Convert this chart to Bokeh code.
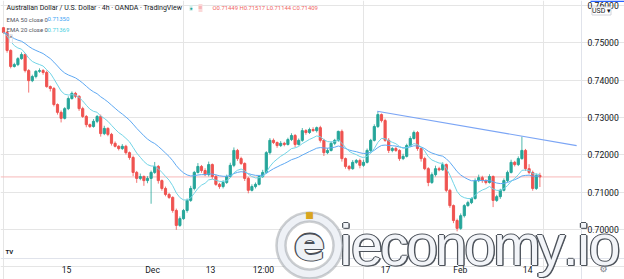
from bokeh.plotting import figure
from bokeh.models import Range1d, Span, Label, ColumnDataSource, BoxAnnotation
from bokeh.embed import file_html
from bokeh.resources import INLINE

# ---------------- data ----------------
first_open = 0.7541
closes = [
    0.7528, 0.7480, 0.7437, 0.7442, 0.7458, 0.7469, 0.7426, 0.7399, 0.7410, 0.7424,
    0.7426, 0.7421, 0.7383, 0.7378, 0.7335, 0.7314, 0.7298, 0.7324, 0.7351, 0.7365,
    0.7357, 0.7324, 0.7303, 0.7281, 0.7276, 0.7290, 0.7303, 0.7257, 0.7271, 0.7255,
    0.7231, 0.7223, 0.7217, 0.7223, 0.7206, 0.7193, 0.7153, 0.7137, 0.7142, 0.7131,
    0.7137, 0.7153, 0.7169, 0.7131, 0.7110, 0.7094, 0.7086, 0.7051, 0.7011, 0.7029,
    0.7051, 0.7078, 0.7110, 0.7153, 0.7169, 0.7158, 0.7147, 0.7174, 0.7142, 0.7121,
    0.7115, 0.7126, 0.7142, 0.7172, 0.7212, 0.7190, 0.7177, 0.7137, 0.7105, 0.7115,
    0.7121, 0.7142, 0.7153, 0.7206, 0.7239, 0.7233, 0.7225, 0.7231, 0.7228, 0.7241,
    0.7252, 0.7228, 0.7239, 0.7265, 0.7260, 0.7268, 0.7265, 0.7273, 0.7239, 0.7206,
    0.7212, 0.7231, 0.7239, 0.7263, 0.7190, 0.7169, 0.7163, 0.7180, 0.7185, 0.7172,
    0.7180, 0.7212, 0.7239, 0.7276, 0.7308, 0.7292, 0.7239, 0.7212, 0.7217, 0.7212,
    0.7190, 0.7196, 0.7225, 0.7244, 0.7260, 0.7217, 0.7190, 0.7163, 0.7126, 0.7147,
    0.7163, 0.7160, 0.7174, 0.7105, 0.7064, 0.7024, 0.7003, 0.7037, 0.7064, 0.7072,
    0.7083, 0.7131, 0.7139, 0.7131, 0.7126, 0.7142, 0.7078, 0.7088, 0.7105, 0.7131,
    0.7153, 0.7180, 0.7174, 0.7190, 0.7212, 0.7163, 0.7153, 0.7110, 0.7145, 0.71409,
]
# wick lengths above / below the candle body, in pips (0.0001)
up_wick_pips = [
    2, 4, 3, 5, 4, 6, 3, 4, 5, 3,
    6, 4, 5, 3, 4, 3, 5, 4, 6, 5,
    4, 3, 5, 4, 3, 6, 4, 5, 7, 3,
    4, 5, 3, 6, 4, 3, 5, 4, 8, 3,
    6, 5, 12, 4, 3, 5, 4, 3, 5, 6,
    4, 5, 7, 4, 9, 4, 6, 8, 3, 5,
    4, 6, 5, 7, 8, 4, 5, 3, 4, 6,
    5, 4, 7, 4, 6, 5, 3, 6, 4, 5,
    6, 4, 5, 7, 4, 5, 6, 3, 5, 4,
    6, 5, 4, 2, 5, 3, 4, 6, 4, 5,
    7, 5, 4, 6, 8, 3, 5, 6, 4, 5,
    3, 7, 5, 6, 5, 4, 3, 5, 4, 6,
    8, 5, 6, 3, 4, 3, 5, 6, 4, 5,
    3, 6, 8, 5, 4, 6, 3, 5, 4, 6,
    5, 7, 4, 6, 37, 4, 12, 5, 5, 7,
]
down_wick_pips = [
    3, 6, 5, 3, 4, 3, 5, 32, 4, 5,
    4, 6, 3, 8, 5, 6, 11, 3, 4, 3,
    5, 6, 4, 7, 4, 3, 5, 8, 4, 5,
    6, 3, 5, 4, 5, 6, 10, 12, 5, 14,
    7, 68, 4, 8, 6, 5, 4, 6, 12, 4,
    3, 6, 4, 5, 3, 6, 4, 5, 7, 4,
    6, 5, 4, 3, 5, 6, 4, 7, 8, 3,
    5, 3, 4, 3, 5, 4, 6, 4, 5, 3,
    4, 7, 3, 4, 6, 4, 3, 5, 6, 9,
    4, 3, 5, 4, 8, 6, 5, 3, 4, 8,
    4, 3, 5, 3, 4, 5, 4, 7, 5, 4,
    6, 4, 3, 4, 3, 6, 8, 4, 10, 4,
    5, 4, 3, 5, 6, 7, 8, 4, 5, 3,
    4, 3, 4, 6, 5, 3, 18, 4, 6, 3,
    4, 3, 5, 4, 3, 6, 5, 6, 4, 27,
]
date_tick_index = [17.5, 41.4, 57.5, 72.2, 87.5, 106.1, 126.9, 145.6]
date_tick_labels = ["15", "Dec", "13", "12:00", "2022", "17", "Feb", "14"]
price_ticks = [0.70, 0.71, 0.72, 0.73, 0.74, 0.75, 0.76]
trend_x = [103.8, 159.2]
trend_y = [0.7317, 0.7225]
last_price = 0.71409
ema_periods = [50, 20]
ema_bar_scale = 2.0  # 4h bars represented by one drawn candle (for EMA smoothing)

assert len(closes) == len(up_wick_pips) == len(down_wick_pips)

# ---------------- derived ----------------
n = len(closes)
idx = list(range(n))
opens = [first_open] + closes[:-1]
highs = [max(o, c) + u * 1e-4 for o, c, u in zip(opens, closes, up_wick_pips)]
lows = [min(o, c) - d * 1e-4 for o, c, d in zip(opens, closes, down_wick_pips)]
UP, DOWN = "#26a69a", "#ef5350"
colors = [UP if c >= o else DOWN for o, c in zip(opens, closes)]
src = ColumnDataSource(dict(x=idx, o=opens, c=closes, h=highs, l=lows, col=colors))


def ema(vals, period):
    a = 2.0 / (period / ema_bar_scale + 1.0)
    out, e = [], vals[0]
    for v in vals:
        e = a * v + (1 - a) * e
        out.append(e)
    return out


ema50 = ema(closes, ema_periods[0])
ema20 = ema(closes, ema_periods[1])

# ---------------- layout ----------------
W, H = 624, 279
PANE_R, PANE_B = 581, 258          # right edge / bottom edge of the price pane (px)
X0, X1 = -0.833, 172.5             # candle-index range across the full width
Y0, Y1 = 0.68659, 0.76139          # price range across the full height
X_PANE_END = X0 + (X1 - X0) * PANE_R / W

FONT = "Roboto"
p = figure(width=W, height=H, output_backend="svg", toolbar_location=None,
           x_range=Range1d(X0, X1), y_range=Range1d(Y0, Y1),
           x_axis_location=None, y_axis_location=None,
           min_border_left=0, min_border_top=0, min_border_right=0, min_border_bottom=0)
p.outline_line_color = None
p.background_fill_color = "white"
p.border_fill_color = "white"

# axis separators
p.add_layout(Span(location=PANE_R, location_units="screen", dimension="height",
                  line_color="#e0e3eb", line_width=1))
p.add_layout(Span(location=H - PANE_B, location_units="screen", dimension="width",
                  line_color="#e0e3eb", line_width=1))
p.add_layout(BoxAnnotation(left=590, right=W, top=H, bottom=H - 1.5, left_units="screen",
                           right_units="screen", top_units="screen", bottom_units="screen",
                           fill_color="#2962ff", fill_alpha=1, line_color=None))

# price line
p.segment(x0=[X0], y0=[last_price], x1=[X_PANE_END], y1=[last_price], line_color="#f7b9b9", line_width=1)

# candles
p.segment(x0="x", y0="h", x1="x", y1="l", color="col", source=src, line_width=1, line_alpha=0.8)
p.vbar(x="x", top="o", bottom="c", width=0.6, fill_color="col", line_color="col", source=src)

# indicators / drawing
p.line(idx, ema50, line_color="#5ea8f2", line_width=1)
p.line(idx, ema20, line_color="#72d4e6", line_width=1)
p.line(trend_x, trend_y, line_color="#7ba5f5", line_width=1.2)

# price scale labels
for t in price_ticks:
    p.add_layout(Label(x=587, y=t, x_units="screen", y_units="data", text=f"{t:.5f}",
                       text_baseline="middle", text_font=FONT, text_font_size="8.6px",
                       text_color="#131722"))


# ---------------- watermark letters ----------------
def wm(x, y, text, color, size, font="DejaVu Sans", style="normal", align="center", base="middle"):
    p.add_layout(Label(x=x, y=H - y, x_units="screen", y_units="screen", text=text,
                       text_align=align, text_baseline=base, text_font=font,
                       text_font_size=size, text_color=color, text_font_style=style))


WM_TEXT = "ieconomy.io"
WM_SIZE = 57
ADV = {"i": 0.2222, "e": 0.5562, "c": 0.5, "o": 0.5562, "n": 0.5562, "m": 0.833, "y": 0.5, ".": 0.2778}
track = 0.915
pos, cx = [], 339.0
for ch in WM_TEXT:
    pos.append(cx)
    cx += ADV[ch] * WM_SIZE * track
WMFONT = "Liberation Sans"
WM_MID = 244.5
for dx, dy in [(-1.3, 0), (1.3, 0), (0, -1.3), (0, 1.3), (1.3, 1.3)]:
    for ch, x in zip(WM_TEXT, pos):
        wm(x + dx, WM_MID + dy, ch, "#4e545c", f"{WM_SIZE}px", font=WMFONT, align="left")
for ch, x in zip(WM_TEXT, pos):
    wm(x, WM_MID, ch, "#f2f4f8", f"{WM_SIZE}px", font=WMFONT, align="left")

# time scale labels
for t, s in zip(date_tick_index, date_tick_labels):
    p.add_layout(Label(x=t, y=H - 269, x_units="data", y_units="screen", text=s,
                       text_align="center", text_baseline="middle", text_font=FONT,
                       text_font_size="8.6px", text_color="#131722"))

# ---------------- watermark logo ----------------
LX, LY = 309, 245


def ring(r, fill, line, lw):
    p.add_layout(BoxAnnotation(left=LX - r, right=LX + r, top=H - (LY - r), bottom=H - (LY + r),
                               left_units="screen", right_units="screen", top_units="screen",
                               bottom_units="screen", border_radius=r, fill_color=fill,
                               fill_alpha=1, line_color=line, line_width=lw))


ring(33, "#eef1f6", "#5d636b", 2.5)
ring(24, "#ffffff", "#5d636b", 2.5)
wm(LX, 214, "■", "#d9a520", "9px")
for dx, dy in [(-1.3, 0), (1.3, 0), (0, -1.3), (0, 1.3)]:
    wm(LX + dx, LY - 3 + dy, "e", "#4a4f57", "46px", style="bold")
wm(LX, LY - 3, "e", "#eef1f5", "46px", style="bold")


# ---------------- legend texts ----------------
def lab(x, ytop, text, color, size="7px", **kw):
    p.add_layout(Label(x=x, y=H - ytop, x_units="screen", y_units="screen", text=text,
                       text_color=color, text_font_size=size, text_font=FONT,
                       text_baseline="middle", **kw))


lab(6, 7.5, "Australian Dollar / U.S. Dollar · 4h · OANDA · TradingView", "#131722")
lab(189, 7.5, "●", "#26a69a", size="5px", background_fill_color="#d7f0ec")
lab(198, 7.5, "≡", "#ef5350", size="7px", background_fill_color="#fbd9d9")
lab(212, 7.5, "O0.71449  H0.71517  L0.71144  C0.71409", "#f06464", size="5.9px")
lab(6, 18.5, "EMA 50 close 0", "#50535e", size="6px")
lab(47, 18.5, "0.71350", "#42a5f5", size="6px")
lab(6, 29, "EMA 20 close 0", "#50535e", size="6px")
lab(47, 29, "0.71369", "#4dd0e1", size="6px")
lab(9, 38, "^", "#50535e", size="7px", border_line_color="#e0e3eb", background_fill_color="white")
lab(5, 251, "TV", "#131722", size="6px", text_font_style="bold")
p.add_layout(Label(x=601, y=H - 10.5, x_units="screen", y_units="screen", text="USD ▾",
                   text_align="center", text_baseline="middle", text_font=FONT,
                   text_font_size="7px", text_color="#131722",
                   background_fill_color="white", border_line_color="#d1d4dc"))
p.add_layout(Label(x=603, y=H - 268, x_units="screen", y_units="screen", text="⚙",
                   text_align="center", text_baseline="middle", text_font="DejaVu Sans",
                   text_font_size="9px", text_color="#787b86"))

open("out.html", "w").write(file_html(p, INLINE))
